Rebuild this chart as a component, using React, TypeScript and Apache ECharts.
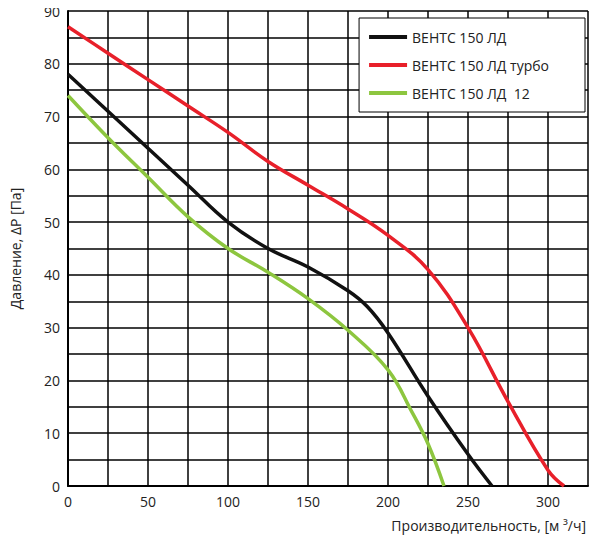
import { useEffect, useRef } from 'react';
import * as echarts from 'echarts';

const seriesNames = ['ВЕНТС 150 ЛД', 'ВЕНТС 150 ЛД турбо', 'ВЕНТС 150 ЛД  12'];
const colors = ['#111111', '#e8202a', '#8dc63f'];
const blackCurve = [[0, 78], [25, 71], [50, 64], [75, 57], [100, 50], [125, 45], [150, 41.5], [175, 37], [187, 34], [200, 29], [225, 17], [250, 6], [265, 0]];
const redCurve = [[0, 87], [25, 82], [50, 77], [75, 72], [100, 67], [125, 61.5], [150, 57], [175, 52.5], [200, 47.5], [225, 41], [250, 30], [275, 16], [300, 3], [310, 0]];
const greenCurve = [[0, 74], [25, 66], [50, 58.5], [75, 51], [100, 45], [125, 40.5], [150, 35.5], [175, 29.5], [200, 22], [215, 14], [225, 8], [235, 0]];
const curves = [blackCurve, redCurve, greenCurve];

const App = () => {
    const chartRef = useRef<HTMLDivElement>(null);
    useEffect(() => {
        const chart = echarts.init(chartRef.current, null, { renderer: 'svg' });
        const font = 'Open Sans';
        chart.setOption({
            animation: false,
            textStyle: { fontFamily: font },
            grid: { left: 68, right: 12, top: 11, bottom: 71 },
            legend: {
                orient: 'vertical', right: 15, top: 18, itemWidth: 38, itemHeight: 4,
                backgroundColor: '#fff', borderColor: '#000', borderWidth: 1,
                padding: [12, 36, 12, 10], itemGap: 14,
                textStyle: { fontSize: 14, color: '#222', fontFamily: font },
                data: seriesNames.map((n) => ({ name: n, icon: 'rect' })),
            },
            graphic: [{
                type: 'text', right: 14, top: 518,
                style: { text: 'Производительность, [м ³/ч]', fontSize: 14, fill: '#222', fontFamily: font },
            }],
            xAxis: {
                type: 'value', min: 0, max: 325, interval: 25,
                axisLine: { lineStyle: { color: '#000', width: 2 } },
                axisTick: { show: false },
                axisLabel: { fontSize: 14, color: '#222', formatter: (v: number) => (v % 50 === 0 && v <= 300 ? String(v) : '') },
                splitLine: { lineStyle: { color: '#000', width: 1.5 } },
            },
            yAxis: {
                type: 'value', min: 0, max: 90, interval: 5,
                name: 'Давление, ΔP [Па]', nameLocation: 'middle', nameGap: 46, nameRotate: 90,
                nameTextStyle: { fontSize: 14, color: '#222' },
                axisLine: { show: true, lineStyle: { color: '#000', width: 2 } },
                axisTick: { show: false },
                axisLabel: { fontSize: 14, color: '#222', formatter: (v: number) => (v % 10 === 0 ? String(v) : '') },
                splitLine: { lineStyle: { color: '#000', width: 1.5 } },
            },
            series: curves.map((d, i) => ({
                name: seriesNames[i], type: 'line', data: d, smooth: 0.4, showSymbol: false,
                lineStyle: { width: 3.5, color: colors[i] }, itemStyle: { color: colors[i] },
            })),
        });
        return () => chart.dispose();
    }, []);
    return <div ref={chartRef} style={{ width: 600, height: 557, margin: -8 }} />;
};

export default App;
